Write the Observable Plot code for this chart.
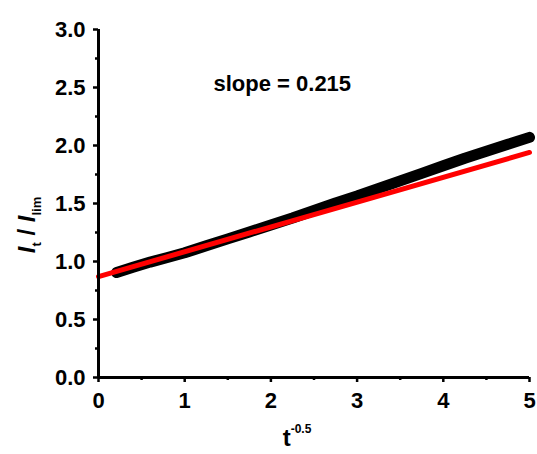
<!DOCTYPE html>
<html><head><meta charset="utf-8">
<script src="https://cdn.jsdelivr.net/npm/d3@7"></script>
<script src="https://cdn.jsdelivr.net/npm/@observablehq/plot@0.6"></script>
<style>
body{margin:0;background:#fff;}
svg{font-family:"Liberation Sans",Arial,sans-serif;}
</style>
</head><body><div id="chart"></div>
<script>
// measured data (t^-0.5 vs I_t / I_lim)
const dataX = [0.21, 0.4, 0.6, 0.8, 1.0, 1.25, 1.5, 1.75, 2.0, 2.25, 2.5, 2.75, 3.0, 3.25, 3.5, 3.75, 4.0, 4.25, 4.5, 4.75, 5.0];
const dataY = [0.905, 0.95, 0.995, 1.035, 1.075, 1.135, 1.195, 1.255, 1.315, 1.375, 1.44, 1.505, 1.565, 1.63, 1.695, 1.76, 1.825, 1.89, 1.95, 2.01, 2.07];
// linear fit
const fitX = [0, 5];
const fitY = [0.87, 1.94];
// ticks
const xTicks = [0, 1, 2, 3, 4, 5];
const xMinorTicks = [0.5, 1.5, 2.5, 3.5, 4.5];
const yTicks = [0, 0.5, 1.0, 1.5, 2.0, 2.5, 3.0];
const yMinorTicks = [0.25, 0.75, 1.25, 1.75, 2.25, 2.75];
const slopeLabel = "slope = 0.215";

const data = dataX.map((x, i) => ({x, y: dataY[i]}));
const fit = fitX.map((x, i) => ({x, y: fitY[i]}));

const chart = Plot.plot({
  width: 537, height: 454,
  marginLeft: 98, marginRight: 8, marginTop: 29, marginBottom: 77,
  x: {domain: [0, 5]},
  y: {domain: [0, 3]},
  style: {fontFamily: "'Liberation Sans', Arial, sans-serif", fontSize: "22px", fontWeight: "bold", color: "#000", background: "#fff", overflow: "visible"},
  marks: [
    Plot.line(data, {x: "x", y: "y", stroke: "#000", strokeWidth: 11}),
    Plot.line(fit, {x: "x", y: "y", stroke: "#ff0000", strokeWidth: 5}),
    Plot.axisX({ticks: xTicks, tickSize: 5, tickPadding: 10, strokeWidth: 2.5, tickFormat: d => String(d), label: null, fontSize: 22}),
    Plot.axisX({ticks: xMinorTicks, tickSize: 3, strokeWidth: 2.5, tickFormat: () => "", label: null}),
    Plot.axisY({ticks: yTicks, tickSize: 5, tickPadding: 8, strokeWidth: 2.5, tickFormat: d3.format(".1f"), label: null, fontSize: 22}),
    Plot.axisY({ticks: yMinorTicks, tickSize: 3, strokeWidth: 2.5, tickFormat: () => "", label: null}),
    Plot.ruleX([0], {strokeWidth: 3}),
    Plot.ruleY([0], {strokeWidth: 3}),
    Plot.text([slopeLabel], {frameAnchor: "top-left", dx: 115, dy: 46, textAnchor: "start", fontSize: 22, fontWeight: "bold", letterSpacing: 1.5})
  ]
});

const svg = d3.select(chart);
// y axis label: I_t / I_lim
const yl = svg.append("text")
  .attr("transform", "translate(35,225) rotate(-90)")
  .attr("text-anchor", "middle")
  .style("font-size", "24px").style("font-weight", "bold").attr("fill", "#000");
yl.append("tspan").style("font-style", "italic").text("I");
yl.append("tspan").attr("dy", 6).style("font-size", "13px").text("t");
yl.append("tspan").attr("dy", -6).text(" / ");
yl.append("tspan").style("font-style", "italic").text("I");
yl.append("tspan").attr("dy", 6).style("font-size", "13px").text("lim");

// x axis label: t^-0.5
const xl = svg.append("text")
  .attr("x", 297).attr("y", 446)
  .style("font-size", "24px").style("font-weight", "bold").attr("fill", "#000");
xl.append("tspan").text("t");
xl.append("tspan").attr("dy", -13).style("font-size", "12px").text("-0.5");

document.getElementById("chart").appendChild(chart);
</script>
</body></html>
